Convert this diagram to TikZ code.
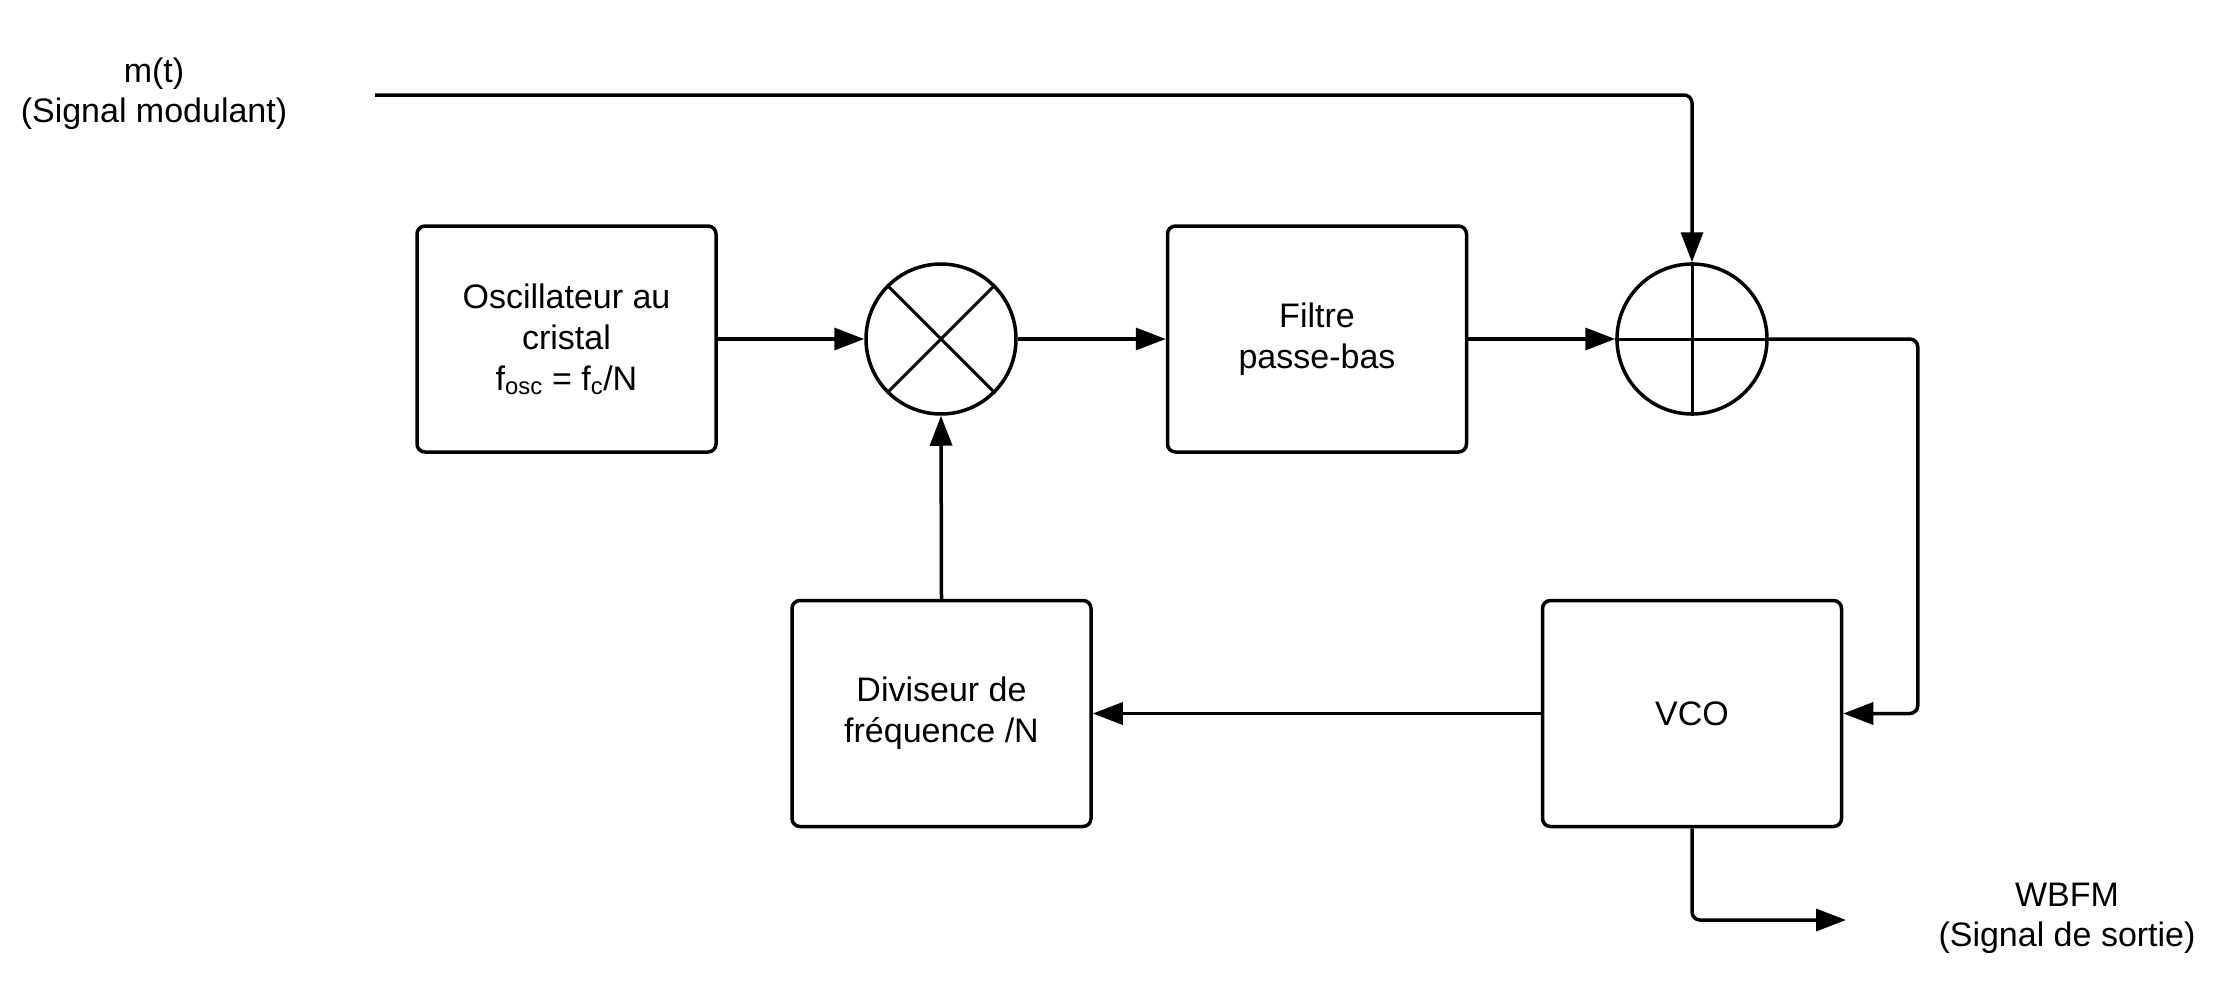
\documentclass[tikz,border=0pt]{standalone}
\usepackage{fontspec}
\setmainfont{Liberation Sans}
\usetikzlibrary{arrows.meta}
\begin{document}
\begin{tikzpicture}[x=1pt,y=-1pt,
 blk/.style={draw, line width=3.5pt, rounded corners=8pt, minimum width=299pt, minimum height=226pt, inner sep=0pt, align=center, font=\fontsize{34}{41}\selectfont},
 op/.style={draw, circle, line width=3.5pt, minimum size=150pt, inner sep=0pt},
 wire/.style={line width=3.5pt, rounded corners=8pt},
 arr/.style={wire, -{Triangle[length=30pt,width=22pt]}},
 inner/.style={line width=3pt},
 lbl/.style={align=center, font=\fontsize{34}{40}\selectfont}]
\useasboundingbox (0,0) rectangle (2225,993);
\node[blk] (osc) at (566.5,339) {Oscillateur au\\cristal\\f\textsubscript{osc} = f\textsubscript{c}/N};
\node[op] (mix) at (941,339) {};
\node[blk] (filt) at (1317,339) {Filtre\\passe-bas};
\node[op] (sum) at (1692,339) {};
\node[blk] (vco) at (1692,713.5) {VCO};
\node[blk] (div) at (941.5,713.5) {Diviseur de\\fréquence /N};
\node[lbl] (mt) at (154,94) {m(t)\\(Signal modulant)};
\node[lbl] (wbfm) at (2067,918) {WBFM\\(Signal de sortie)};
\coordinate (start) at (375,95);
\coordinate (out) at (1846,920);
\draw[inner] (mix.45) -- (mix.225) (mix.135) -- (mix.315);
\draw[inner] (sum.north) -- (sum.south) (sum.west) -- (sum.east);
\draw[arr] (start) -| (sum.north);
\draw[arr] (osc.east) -- (mix.west);
\draw[arr] (mix.east) -- (filt.west);
\draw[arr] (filt.east) -- (sum.west);
\draw[arr] (sum.east) -- ++(149,0) |- (vco.east);
\draw[arr] (vco.west) -- (div.east);
\draw[arr] (div.north) -- (mix.south);
\draw[arr] (vco.south) |- (out);
\end{tikzpicture}
\end{document}
